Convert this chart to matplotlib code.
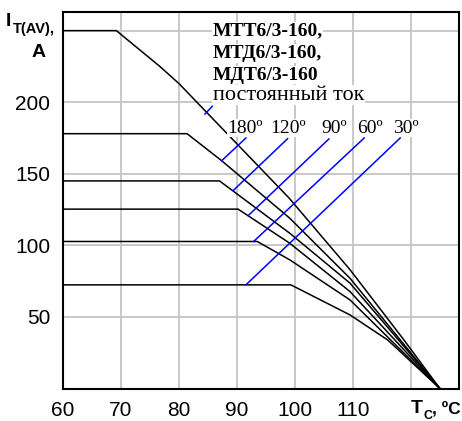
import matplotlib
matplotlib.use('Agg')
import matplotlib.pyplot as plt

# ── data ────────────────────────────────────────────────────────────────────
# case temperature Tc (deg C) -> average on-state current IT(AV) (A)
dc_t   = [60, 69.2, 76.7, 80.0, 99.0, 109.5, 118.6, 125]
dc_i   = [250, 250, 225, 213, 133, 83, 35, 0]

a180_t = [60, 81.4, 87.4, 99.1, 109.5, 125]
a180_i = [178, 178, 159, 119, 77, 0]

a120_t = [60, 87.0, 99.1, 109.5, 125]
a120_i = [145, 145, 108.5, 73.6, 0]

a90_t  = [60, 90.2, 99.1, 109.5, 125]
a90_i  = [125.3, 125.3, 101.5, 67.7, 0]

a60_t  = [60, 93.5, 99.1, 109.5, 125]
a60_i  = [102.7, 102.7, 89.9, 61.9, 0]

a30_t  = [60, 99.3, 109.5, 116.0, 125]
a30_i  = [72.4, 72.4, 51.4, 33.9, 0]

curves = [(dc_t, dc_i), (a180_t, a180_i), (a120_t, a120_i),
          (a90_t, a90_i), (a60_t, a60_i), (a30_t, a30_i)]

# blue leader lines: label end -> curve end
angle_labels = ['180º', '120º', '90º', '60º', '30º']
label_x      = [91.4, 98.8, 106.8, 112.9, 119.1]
leader_top_t = [91.55, 98.74, 105.86, 111.95, 118.16]
leader_top_i = [175, 174.5, 174.3, 175, 175]
leader_bot_t = [87.36, 89.36, 91.95, 92.88, 91.55]
leader_bot_i = [159.1, 138.3, 120.8, 102.7, 72.4]
dc_tick_t    = [84.48, 85.74]
dc_tick_i    = [191.7, 197.1]

title_lines = ['МТТ6/3-160,', 'МТД6/3-160,', 'МДТ6/3-160']
title_base  = [246.5, 231.0, 215.7]

xticks = [60, 70, 80, 90, 100, 110, 120]
xtick_labels = ['60', '70', '80', '90', '100', '110', '']
yticks = [0, 50, 100, 150, 200, 250]
ytick_labels = ['', '50', '100', '150', '200', '']

# ── plot ─────────────────────────────────────────────────────────────────────
W, H = 462, 421
fig = plt.figure(figsize=(W / 100, H / 100), dpi=100)
ax = fig.add_axes([63 / W, 1 - 388.5 / H, (459 - 63) / W, (388.5 - 12) / H])

ax.set_xlim(60, 128.3)
ax.set_ylim(0, 263)
ax.set_xticks(xticks)
ax.set_xticklabels(xtick_labels)
ax.set_yticks(yticks)
ax.set_yticklabels(ytick_labels)
ax.tick_params(length=0, labelsize=15, pad=9)
for lab in ax.get_xticklabels() + ax.get_yticklabels():
    lab.set_family('Liberation Sans')
ax.grid(True, color='#c4c4c4', linewidth=1.3)
ax.set_axisbelow(True)
for s in ax.spines.values():
    s.set_linewidth(1.5)
    s.set_color('black')

for t, i in curves:
    ax.plot(t, i, color='black', linewidth=1.1, solid_joinstyle='miter')

for x0, y0, x1, y1 in zip(leader_top_t, leader_top_i, leader_bot_t, leader_bot_i):
    ax.plot([x0, x1], [y0, y1], color='#0000ff', linewidth=1.1)
ax.plot(dc_tick_t, dc_tick_i, color='#0000ff', linewidth=1.1)

white = dict(facecolor='white', edgecolor='none', pad=0.5)
for txt, yb in zip(title_lines, title_base):
    ax.text(85.8, yb, txt, family='Liberation Serif', weight='bold',
            fontsize=14, va='baseline', ha='left', bbox=white)
ax.text(85.8, 201.7, 'постоянный ток', family='Liberation Serif',
        fontsize=16, va='baseline', ha='left', bbox=white)

for txt, x in zip(angle_labels, label_x):
    ax.text(x, 178.7, txt, family='Liberation Serif', fontsize=14,
            va='baseline', ha='center', bbox=white)

# axis labels (main letter + subscript placed separately)
sans_b = dict(family='Liberation Sans', weight='bold', va='baseline')
fig.text(6 / W, 1 - 25.5 / H, 'I', fontsize=14, ha='left', **sans_b)
fig.text(13 / W, 1 - 33 / H, 'T(AV),', fontsize=10.5, ha='left', **sans_b)
fig.text(39 / W, 1 - 57 / H, 'A', fontsize=14, ha='center', **sans_b)
fig.text(411 / W, 1 - 413 / H, 'T', fontsize=14, ha='left', **sans_b)
fig.text(424 / W, 1 - 419 / H, 'C', fontsize=9, ha='left', **sans_b)
fig.text(461 / W, 1 - 413 / H, ', ºC', fontsize=12.5, ha='right', **sans_b)

fig.savefig('out.png', dpi=100)
